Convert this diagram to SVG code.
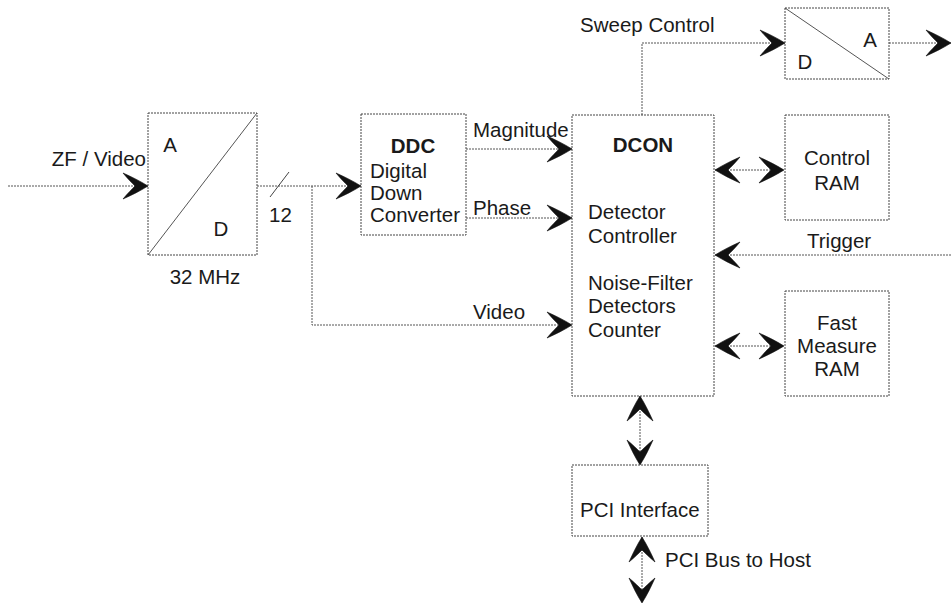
<svg xmlns="http://www.w3.org/2000/svg" width="951" height="605" viewBox="0 0 951 605">
<style>
.box{fill:none;stroke:#444;stroke-width:1;stroke-dasharray:2,1}
.ln{fill:none;stroke:#555;stroke-width:1;stroke-dasharray:2,1}
.ar{marker-end:url(#ah)}
.bi{marker-start:url(#ah);marker-end:url(#ah)}
text{font-family:"Liberation Sans",Arial,sans-serif;font-size:20.5px;fill:#1a1a1a}
.b{font-weight:bold}
.m{text-anchor:middle}
</style>
<defs>
<marker id="ah" viewBox="-26 -14 28 28" refX="0" refY="0" markerWidth="28" markerHeight="28" markerUnits="userSpaceOnUse" orient="auto-start-reverse">
<path d="M0,0 C-8,-5 -16,-9 -25,-13 C-20,-7 -16,-3 -13,0 C-16,3 -20,7 -25,13 C-16,9 -8,5 0,0 Z" fill="#111" stroke="#111" stroke-width="0.6"/>
</marker>
</defs>
<g id="connectors">
<line class="ln ar" x1="8" y1="186" x2="148" y2="186"/>
<line class="ln ar" x1="257" y1="186" x2="361" y2="186"/>
<line x1="270" y1="197" x2="289" y2="172" stroke="#444" stroke-width="1"/>
<polyline class="ln ar" points="312,186 312,325 572,325"/>
<line class="ln ar" x1="466" y1="149" x2="572" y2="149"/>
<line class="ln ar" x1="466" y1="218" x2="572" y2="218"/>
<polyline class="ln ar" points="642,115 642,43 785,43"/>
<line class="ln ar" x1="889" y1="43" x2="951" y2="43"/>
<line class="ln bi" x1="715" y1="170" x2="784" y2="170"/>
<line class="ln ar" x1="951" y1="255" x2="715" y2="255"/>
<line class="ln bi" x1="715" y1="346" x2="784" y2="346"/>
<line class="ln bi" x1="640" y1="396" x2="640" y2="465"/>
<line class="ln bi" x1="642" y1="537" x2="642" y2="603"/>
</g>
<g id="adc">
<rect class="box" x="148" y="113" width="109" height="142"/>
<line x1="148" y1="255" x2="257" y2="113" stroke="#555" stroke-width="1"/>
<text x="170" y="152" class="m">A</text>
<text x="221" y="236" class="m">D</text>
</g>
<g id="labels-left">
<text x="146" y="166" text-anchor="end">ZF / Video</text>
<text x="205" y="284" class="m">32 MHz</text>
<text x="269" y="222">12</text>
<text x="473" y="137">Magnitude</text>
<text x="473" y="215">Phase</text>
<text x="473" y="319">Video</text>
<text x="580" y="32">Sweep Control</text>
<text x="807" y="248">Trigger</text>
<text x="665" y="567">PCI Bus to Host</text>
</g>
<g id="ddc">
<rect class="box" x="361" y="114" width="105" height="121"/>
<text x="413" y="153" class="m b">DDC</text>
<text x="370" y="178">Digital</text>
<text x="370" y="200">Down</text>
<text x="370" y="222">Converter</text>
</g>
<g id="dcon">
<rect class="box" x="572" y="115" width="142" height="281"/>
<text x="643" y="152" class="m b">DCON</text>
<text x="588" y="219">Detector</text>
<text x="588" y="243">Controller</text>
<text x="588" y="290">Noise-Filter</text>
<text x="588" y="313">Detectors</text>
<text x="588" y="337">Counter</text>
</g>
<g id="dac">
<rect class="box" x="785" y="8" width="104" height="71"/>
<line x1="785" y1="8" x2="889" y2="79" stroke="#555" stroke-width="1"/>
<text x="870" y="47" class="m">A</text>
<text x="805" y="69" class="m">D</text>
</g>
<g id="control-ram">
<rect class="box" x="785" y="115" width="104" height="105"/>
<text x="837" y="165" class="m">Control</text>
<text x="837" y="190" class="m">RAM</text>
</g>
<g id="fast-ram">
<rect class="box" x="785" y="291" width="104" height="105"/>
<text x="837" y="330" class="m">Fast</text>
<text x="837" y="353" class="m">Measure</text>
<text x="837" y="376" class="m">RAM</text>
</g>
<g id="pci">
<rect class="box" x="572" y="465" width="136" height="71"/>
<text x="580" y="517">PCI Interface</text>
</g>
</svg>
